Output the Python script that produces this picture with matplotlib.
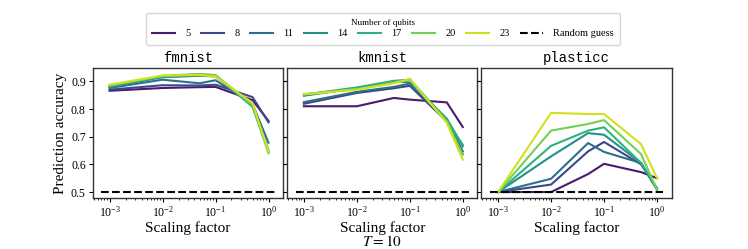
import numpy as np
import matplotlib
matplotlib.use("Agg")
import matplotlib.pyplot as plt

plt.rcParams['font.family'] = ['Liberation Serif', 'DejaVu Serif']
plt.rcParams['mathtext.fontset'] = 'stix'

datasets = ["fmnist", "kmnist", "plasticc"]
qubits = [5, 8, 11, 14, 17, 20, 23]
scaling = [1e-3, 1e-2, 0.05, 0.1, 0.5, 1.0]
random_x = [7e-4, 1.3]
random_guess = 0.5

fmnist = {
    5:  [0.866, 0.876, 0.879, 0.880, 0.832, 0.757],
    8:  [0.870, 0.886, 0.885, 0.888, 0.843, 0.752],
    11: [0.876, 0.906, 0.893, 0.904, 0.818, 0.678],
    14: [0.880, 0.915, 0.920, 0.918, 0.812, 0.650],
    17: [0.883, 0.918, 0.925, 0.921, 0.808, 0.645],
    20: [0.885, 0.920, 0.927, 0.923, 0.815, 0.640],
    23: [0.888, 0.921, 0.923, 0.917, 0.822, 0.646],
}
kmnist = {
    5:  [0.810, 0.810, 0.840, 0.834, 0.824, 0.735],
    8:  [0.819, 0.858, 0.875, 0.884, 0.755, 0.637],
    11: [0.825, 0.862, 0.880, 0.892, 0.760, 0.647],
    14: [0.848, 0.876, 0.900, 0.896, 0.765, 0.665],
    17: [0.852, 0.878, 0.902, 0.906, 0.760, 0.671],
    20: [0.854, 0.872, 0.895, 0.908, 0.755, 0.635],
    23: [0.853, 0.870, 0.893, 0.908, 0.750, 0.617],
}
plasticc = {
    5:  [0.500, 0.500, 0.565, 0.602, 0.572, 0.550],
    8:  [0.500, 0.527, 0.647, 0.681, 0.600, 0.512],
    11: [0.500, 0.548, 0.677, 0.645, 0.605, 0.508],
    14: [0.500, 0.629, 0.713, 0.707, 0.605, 0.512],
    17: [0.500, 0.667, 0.722, 0.734, 0.605, 0.514],
    20: [0.500, 0.722, 0.746, 0.760, 0.637, 0.508],
    23: [0.500, 0.786, 0.782, 0.782, 0.673, 0.550],
}
all_data = [fmnist, kmnist, plasticc]

colors = plt.cm.viridis((np.arange(len(qubits)) + 0.5) / len(qubits))

fig, axes = plt.subplots(1, 3, figsize=(7.48, 2.49), dpi=100, sharey=True)
fig.subplots_adjust(left=0.124, right=0.898, top=0.727, bottom=0.205, wspace=0.02)

handles = []
for ax, name, data in zip(axes, datasets, all_data):
    for q, c in zip(qubits, colors):
        h, = ax.plot(scaling, data[q], color=c, lw=1.5, label=str(q))
        if ax is axes[0]:
            handles.append(h)
    hr, = ax.plot(random_x, [random_guess, random_guess], 'k--', lw=1.5, label='Random guess')
    if ax is axes[0]:
        handles.append(hr)
    ax.set_xscale('log')
    ax.set_title(name, family=['Liberation Mono', 'DejaVu Sans Mono'], fontsize=10, pad=4)
    ax.set_xlabel('Scaling factor', fontsize=11, labelpad=1)
    ax.tick_params(labelsize=8.5, length=3, width=0.8, which='major', pad=2)
    ax.tick_params(which='minor', length=1.5, width=0.6)
    for s in ax.spines.values():
        s.set_color('#333333')
        s.set_linewidth(1.0)

axes[0].set_ylabel('Prediction accuracy', fontsize=11, labelpad=3)
axes[0].set_yticks([0.5, 0.6, 0.7, 0.8, 0.9])

leg = fig.legend(handles=handles, loc='upper center', bbox_to_anchor=(0.512, 0.97),
                 ncol=8, fontsize=7.5, title='Number of qubits', title_fontsize=6.5,
                 frameon=True, fancybox=True, handlelength=2.2, columnspacing=1.0,
                 borderpad=0.6, labelspacing=0.2, handletextpad=1.0)
leg.get_frame().set_edgecolor('#cccccc')

fig.text(0.511, 0.0, r'$T = 10$', ha='center', va='bottom', fontsize=11)

fig.savefig('out.png', dpi=100)
